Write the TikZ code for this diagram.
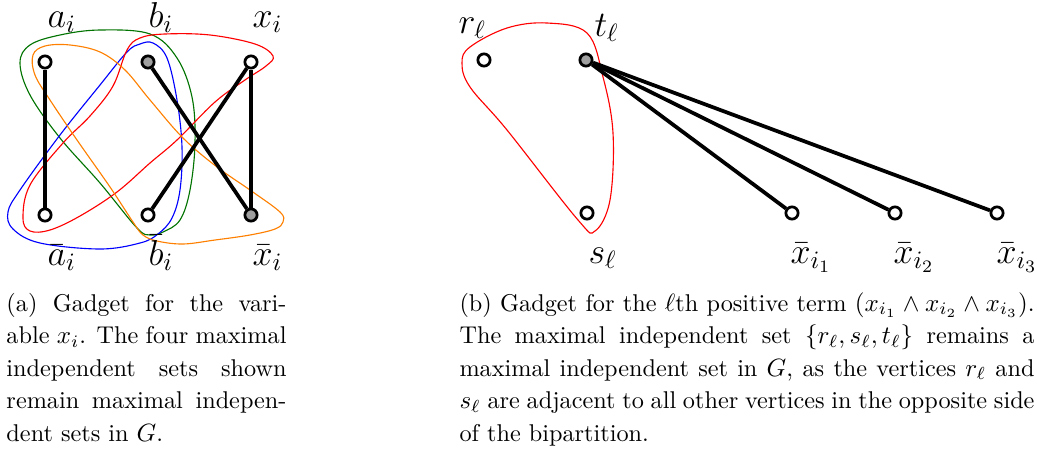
\documentclass[tikz,border=0pt]{standalone}
\usetikzlibrary{calc}
\newcommand{\capline}[2]{\makebox[#1][s]{#2}}
\begin{document}
\begin{tikzpicture}[x=0.4pt,y=-0.4pt,
  vtx/.style={circle,draw=black,line width=1.1pt,fill=white,minimum size=4.9pt,inner sep=0pt},
  gvtx/.style={vtx,fill=gray!75},
  edge/.style={line width=1.5pt,black},
  hull/.style={line width=0.45pt},
  lab/.style={font=\fontsize{14}{16}\selectfont,inner sep=0pt,anchor=base west},
  captext/.style={inner sep=0pt,anchor=base west}]
\useasboundingbox (0,0) rectangle (1037,453);
% hulls (a)
\draw[hull,green!45!black] plot[smooth cycle,tension=0.6] coordinates {(20,63) (30,45) (60,35) (100,30) (150,34) (177,58) (192,97) (195,143) (190,190) (180,220) (163,232) (150,235) (137,228) (100,183) (60,138) (30,95)};
\draw[hull,blue] plot[smooth cycle,tension=0.6] coordinates {(127,52) (140,44) (153,43) (167,58) (177,100) (182,147) (180,190) (172,218) (158,234) (140,243) (100,249) (40,243) (13,229) (8,212) (20,190) (60,135) (100,85)};
\draw[hull,red] plot[smooth cycle,tension=0.6] coordinates {(127,50) (140,38) (165,34) (210,35) (255,44) (273,56) (266,66) (245,80) (215,102) (177,140) (150,163) (117,192) (80,216) (50,230) (30,231) (23,218) (30,185) (63,143) (90,116) (113,86)};
\draw[hull,orange] plot[smooth cycle,tension=0.6] coordinates {(33,55) (45,46) (70,45) (100,52) (125,70) (150,100) (183,138) (217,167) (250,190) (280,212) (283,222) (275,229) (250,235) (215,240) (183,244) (157,241) (143,235) (133,222) (110,187) (77,140) (50,100) (35,75)};
% nodes (a)
\node[vtx] (a) at (45,62) {};
\node[gvtx] (b) at (148,62) {};
\node[vtx] (x) at (251,62) {};
\node[vtx] (na) at (45,215) {};
\node[vtx] (nb) at (148,215) {};
\node[gvtx] (nx) at (251,215) {};
\draw[edge] (a) -- (na);
\draw[edge] (b) -- (nx);
\draw[edge] (x) -- (nx);
\draw[edge] (x) -- (nb);
\node[lab] (la) at (47,27) {$a_i$};
\node[lab] (lb) at (148,27) {$b_i$};
\node[lab] (lx) at (252,27) {$x_i$};
\node[lab] (lna) at (47,265) {$\bar a_i$};
\node[lab] (lnb) at (148,265) {$\bar b_i$};
\node[lab] (lnx) at (252,265) {$\bar x_i$};
% (b)
\draw[hull,red] plot[smooth cycle,tension=0.6] coordinates {(547,23) (587,33) (603,77) (613,133) (610,200) (595,231) (578,220) (507,130) (470,87) (462,63) (470,47) (507,28)};
\node[vtx] (r) at (484,60) {};
\node[gvtx] (t) at (586,60) {};
\node[vtx] (s) at (587,213) {};
\node[vtx] (y1) at (792,213) {};
\node[vtx] (y2) at (895,213) {};
\node[vtx] (y3) at (997,213) {};
\draw[edge] (t) -- (y1);
\draw[edge] (t) -- (y2);
\draw[edge] (t) -- (y3);
\node[lab] (lr) at (458,33) {$r_\ell$};
\node[lab] (lt) at (594,36) {$t_\ell$};
\node[lab] (ls) at (588,263) {$s_\ell$};
\node[lab] (ly1) at (790,263) {$\bar x_{i_1}$};
\node[lab] (ly2) at (893,263) {$\bar x_{i_2}$};
\node[lab] (ly3) at (996,263) {$\bar x_{i_3}$};
% captions
\node[captext] (capa) at (6,311) {\parbox[t]{112pt}{\fontsize{9.7}{13}\selectfont
\capline{112pt}{(a) Gadget for the vari-}\\
\capline{112pt}{able $x_i$. The four maximal}\\
\capline{112pt}{independent sets shown}\\
\capline{112pt}{remain maximal indepen-}\\
dent sets in $G$.}};
\node[captext] (capb) at (459,311) {\parbox[t]{230pt}{\fontsize{9.7}{13}\selectfont
\capline{230pt}{(b) Gadget for the $\ell$th positive term $(x_{i_1}\wedge x_{i_2}\wedge x_{i_3})$.}\\
\capline{230pt}{The maximal independent set $\{r_\ell,s_\ell,t_\ell\}$ remains a}\\
\capline{230pt}{maximal independent set in $G$, as the vertices $r_\ell$ and}\\
\capline{230pt}{$s_\ell$ are adjacent to all other vertices in the opposite side}\\
of the bipartition.}};
\end{tikzpicture}
\end{document}
